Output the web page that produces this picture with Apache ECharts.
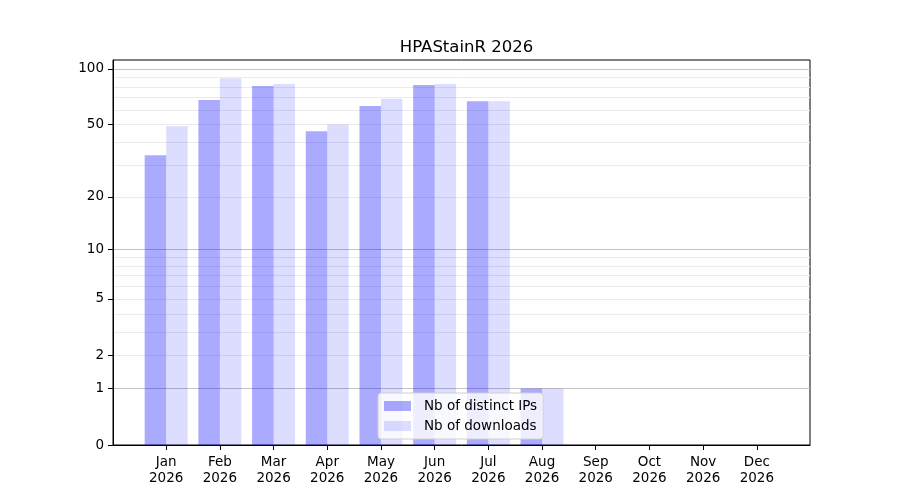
<!DOCTYPE html>
<html><head><meta charset="utf-8">
<script src="https://cdn.jsdelivr.net/npm/echarts@6/dist/echarts.min.js"></script>
<style>html,body{margin:0;padding:0;background:#fff}#c{width:900px;height:500px}</style>
</head><body><div id="c"></div>
<script>
const months = ['Jan','Feb','Mar','Apr','May','Jun','Jul','Aug','Sep','Oct','Nov','Dec'];
const year = '2026';
const titleText = 'HPAStainR 2026';
const seriesNames = ['Nb of distinct IPs','Nb of downloads'];
const distinctIPs = [34, 68, 81, 46, 63, 82, 67, 1, 0, 0, 0, 0];
const downloads   = [49, 89, 83, 50, 69, 83, 67, 1, 0, 0, 0, 0];
const yTickValues = [0, 1, 2, 5, 10, 20, 50, 100];
const majorGrid = [1, 10, 100];
const minorGrid = [2, 3, 4, 5, 6, 7, 8, 9, 20, 30, 40, 50, 60, 70, 80, 90];

const tf = v => Math.log10(1 + v);
const inv = t => Math.round(Math.pow(10, t) - 1);
const dataMax = Math.max(...distinctIPs, ...downloads);
const yMax = tf(dataMax) * 1.05;
const xMin = -0.4 - 0.05 * 11.8, xMax = 11.4 + 0.05 * 11.8;

const gridL = 113, gridR = 90, gridT = 60, gridB = 55;
const plotW = 900 - gridL - gridR;
const barW = plotW / (xMax - xMin) * 0.4;
const font = 'DejaVu Sans';

function gridAxis(values, color) {
  return {
    type: 'value', min: 0, max: yMax, position: 'left',
    axisLine: {show: false}, axisLabel: {show: false},
    axisTick: {show: false, customValues: values.map(tf)},
    splitLine: {show: true, lineStyle: {color: color, width: 1, type: 'solid'}}
  };
}

const chart = echarts.init(document.getElementById('c'), null, {renderer: 'canvas'});
chart.setOption({
  animation: false,
  backgroundColor: '#fff',
  title: {
    text: titleText, left: gridL + plotW / 2, top: 34, textAlign: 'center',
    textStyle: {fontFamily: font, fontSize: 16.5, fontWeight: 'normal', color: '#000'}
  },
  legend: {
    orient: 'vertical', left: 378, top: 393,
    data: seriesNames, icon: 'rect', itemWidth: 27, itemHeight: 10, itemGap: 4,
    padding: [5, 6, 5, 6],
    backgroundColor: 'rgba(255,255,255,0.8)', borderColor: '#d0d0d0', borderWidth: 1, borderRadius: 3,
    textStyle: {fontFamily: font, fontSize: 13.5, color: '#000', padding: [0, 0, 0, 8], lineHeight: 16}
  },
  grid: {left: gridL, right: gridR, top: gridT, bottom: gridB, show: true, borderColor: '#000', borderWidth: 1, containLabel: false},
  xAxis: {
    type: 'value', min: xMin, max: xMax,
    axisLine: {show: true, onZero: false, lineStyle: {color: '#000'}},
    axisTick: {show: true, inside: false, length: 5, lineStyle: {color: '#000'}, customValues: months.map((m, i) => i)},
    axisLabel: {
      customValues: months.map((m, i) => i), margin: 9,
      formatter: v => months[Math.round(v)] + '\n' + year,
      fontFamily: font, fontSize: 13.5, color: '#000', lineHeight: 16, align: 'center'
    },
    splitLine: {show: false}
  },
  yAxis: [
    {
      type: 'value', min: 0, max: yMax,
      axisLine: {show: true, onZero: false, lineStyle: {color: '#000'}},
      axisTick: {show: true, inside: false, length: 5, lineStyle: {color: '#000'}, customValues: yTickValues.map(tf)},
      axisLabel: {
        customValues: yTickValues.map(tf), margin: 9,
        formatter: v => String(inv(v)),
        fontFamily: font, fontSize: 13.5, color: '#000'
      },
      splitLine: {show: false}
    },
    gridAxis(minorGrid, '#ebebeb'),
    gridAxis(majorGrid, '#c4c4c4')
  ],
  series: [
    {
      name: seriesNames[0], type: 'bar', z: 2, barWidth: barW, barGap: '0%',
      itemStyle: {color: 'rgba(0,0,255,0.333)'},
      data: distinctIPs.map((v, i) => [i, tf(v)])
    },
    {
      name: seriesNames[1], type: 'bar', z: 2, barWidth: barW, barGap: '0%',
      itemStyle: {color: 'rgba(0,0,255,0.133)'},
      data: downloads.map((v, i) => [i, tf(v)])
    }
  ]
});
</script></body></html>
